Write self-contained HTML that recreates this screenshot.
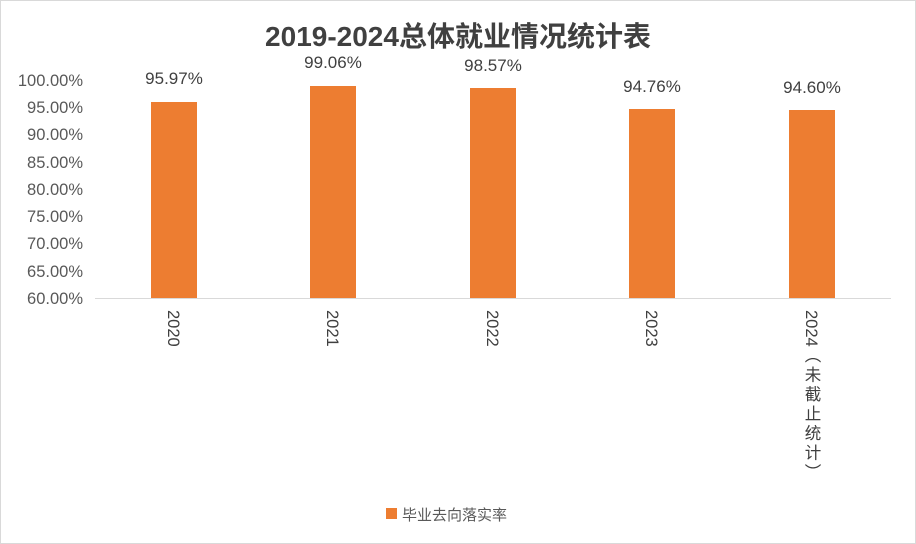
<!DOCTYPE html>
<html><head><meta charset="utf-8"><style>
body{margin:0;}
#c{position:relative;width:914px;height:542px;border:1px solid #d9d9d9;background:#fff;font-family:"Liberation Sans","Noto Sans CJK SC",sans-serif;color:#595959;overflow:hidden}
.t{position:absolute;left:0;width:914px;top:14px;text-align:center;font-size:28px;font-weight:bold;color:#404040}
.y{position:absolute;left:0;width:82px;text-align:right;font-size:16.5px;line-height:18px}
.b{position:absolute;width:46px;background:#ed7d31}
.v{position:absolute;width:100px;text-align:center;font-size:17px;color:#404040}
.x{position:absolute;top:309px;writing-mode:vertical-rl;text-orientation:mixed;font-size:16.5px;line-height:18px;color:#404040}
.x span{letter-spacing:3px}
</style></head><body><div id="c">
<div class="t">2019-2024总体就业情况统计表</div>
<div class="y" style="top:71px">100.00%</div>
<div class="y" style="top:98px">95.00%</div>
<div class="y" style="top:125px">90.00%</div>
<div class="y" style="top:153px">85.00%</div>
<div class="y" style="top:180px">80.00%</div>
<div class="y" style="top:207px">75.00%</div>
<div class="y" style="top:234px">70.00%</div>
<div class="y" style="top:262px">65.00%</div>
<div class="y" style="top:289px">60.00%</div>
<div style="position:absolute;left:94px;top:297px;width:796px;height:1px;background:#d9d9d9"></div>
<div class="b" style="left:150px;top:101px;height:196px"></div>
<div class="b" style="left:309px;top:85px;height:212px"></div>
<div class="b" style="left:469px;top:87px;height:210px"></div>
<div class="b" style="left:628px;top:108px;height:189px"></div>
<div class="b" style="left:788px;top:109px;height:188px"></div>
<div class="v" style="left:123px;top:68px">95.97%</div>
<div class="v" style="left:282px;top:52px">99.06%</div>
<div class="v" style="left:442px;top:55px">98.57%</div>
<div class="v" style="left:601px;top:76px">94.76%</div>
<div class="v" style="left:761px;top:77px">94.60%</div>
<div class="x" style="left:163px">2020</div>
<div class="x" style="left:322px">2021</div>
<div class="x" style="left:482px">2022</div>
<div class="x" style="left:641px">2023</div>
<div class="x" style="left:801px">2024<span>（未截止统计）</span></div>
<div style="position:absolute;left:385px;top:507px;width:11px;height:11px;background:#ed7d31"></div>
<div style="position:absolute;left:401px;top:503px;font-size:15px">毕业去向落实率</div>
</div></body></html>
